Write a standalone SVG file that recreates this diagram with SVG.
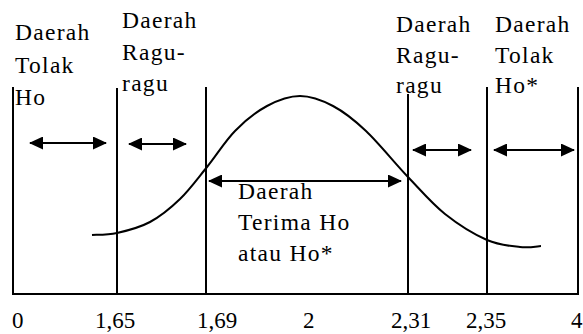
<svg xmlns="http://www.w3.org/2000/svg" width="583" height="334" viewBox="0 0 583 334">
<style>
  .ln { stroke: #000; stroke-width: 2; fill: none; }
  .ar { stroke: #000; stroke-width: 2; fill: none; marker-start: url(#ah); marker-end: url(#ah); }
  .t { font-family: "Liberation Serif", "Times New Roman", serif; font-size: 23.5px; letter-spacing: 1.3px; fill: #000; }
  .n { font-family: "Liberation Serif", "Times New Roman", serif; font-size: 23px; fill: #000; }
</style>
<defs>
  <marker id="ah" viewBox="0 0 14 13" refX="13" refY="6.5" markerWidth="14" markerHeight="13" markerUnits="userSpaceOnUse" orient="auto-start-reverse">
    <path d="M0,0 L14,6.5 L0,13 Z" fill="#000"/>
  </marker>
</defs>
<rect width="583" height="334" fill="#fff"/>

<g id="axis">
  <line class="ln" x1="12" y1="294" x2="579" y2="294"/>
  <line class="ln" x1="13" y1="87" x2="13" y2="294"/>
  <line class="ln" x1="117" y1="88" x2="117" y2="294"/>
  <line class="ln" x1="206" y1="87" x2="206" y2="294"/>
  <line class="ln" x1="408" y1="94" x2="408" y2="294"/>
  <line class="ln" x1="487" y1="87" x2="487" y2="294"/>
  <line class="ln" x1="578" y1="87" x2="578" y2="294"/>
</g>

<g id="curve">
  <path class="ln" d="M92,235 C96.2,234.7 107.3,235.2 117,233 C126.7,230.8 139.5,227.7 150,222 C160.5,216.3 170.5,208.2 180,199 C189.5,189.8 197.8,178.3 207,167 C216.2,155.7 225,141.2 235,131 C245,120.8 256.2,111.8 267,106 C277.8,100.2 289,96 300,96 C311,96 322,100.2 333,106 C344,111.8 353.5,119.2 366,131 C378.5,142.8 394.8,163.2 408,177 C421.2,190.8 431.8,203.5 445,214 C458.2,224.5 474.5,234.5 487,240 C499.5,245.5 511,246 520,247 C529,248 537.5,246.2 541,246"/>
</g>

<g id="connectors">
  <line class="ar" x1="30" y1="143" x2="106" y2="143"/>
  <line class="ar" x1="129" y1="144" x2="186" y2="144"/>
  <line class="ar" x1="209" y1="181" x2="401" y2="181"/>
  <line class="ar" x1="413" y1="150" x2="471" y2="150"/>
  <line class="ar" x1="494" y1="150" x2="574" y2="150"/>
</g>

<g id="label-tolak-ho">
  <text class="t" x="15" y="40">Daerah</text>
  <text class="t" x="15" y="73">Tolak</text>
  <text class="t" x="15" y="105">Ho</text>
</g>
<g id="label-ragu-kiri">
  <text class="t" x="122" y="28">Daerah</text>
  <text class="t" x="122" y="60">Ragu-</text>
  <text class="t" x="122" y="91">ragu</text>
</g>
<g id="label-terima">
  <text class="t" x="238" y="199">Daerah</text>
  <text class="t" x="238" y="230">Terima Ho</text>
  <text class="t" x="238" y="261">atau Ho*</text>
</g>
<g id="label-ragu-kanan">
  <text class="t" x="396" y="32">Daerah</text>
  <text class="t" x="396" y="63">Ragu-</text>
  <text class="t" x="396" y="93">ragu</text>
</g>
<g id="label-tolak-ho-star">
  <text class="t" x="495" y="32">Daerah</text>
  <text class="t" x="495" y="63">Tolak</text>
  <text class="t" x="495" y="93">Ho*</text>
</g>

<g id="ticks">
  <text class="n" x="12" y="328">0</text>
  <text class="n" x="95" y="328">1,65</text>
  <text class="n" x="197" y="328">1,69</text>
  <text class="n" x="303" y="328">2</text>
  <text class="n" x="391" y="328">2,31</text>
  <text class="n" x="466" y="328">2,35</text>
  <text class="n" x="571" y="328">4</text>
</g>
</svg>
